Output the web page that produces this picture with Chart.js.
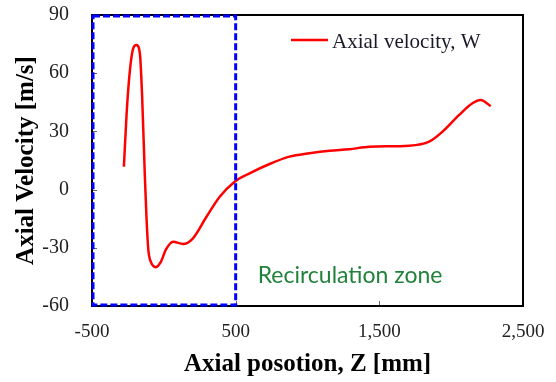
<!DOCTYPE html>
<html>
<head>
<meta charset="utf-8">
<script src="https://cdn.jsdelivr.net/npm/chart.js@4.4.0/dist/chart.umd.min.js"></script>
<style>
  html, body { margin: 0; padding: 0; background: #ffffff; }
  #wrap { width: 556px; height: 382px; }
</style>
</head>
<body>
<div id="wrap"><canvas id="c" width="556" height="382"></canvas></div>
<script>
// ---- Data ----
const zPositions = [-278, -259, -236, -213, -190, -167, -151, -132, -120, -108, -90, -56, -21, 14, 65, 134, 203, 297, 389, 493, 597, 736, 875, 1014, 1153, 1292, 1431, 1708, 1847, 1940, 2056, 2148, 2206, 2275];
const axialVelocity = [11.8, 39.3, 61.6, 72.8, 74.5, 70.3, 47.9, 6.6, -15.7, -31, -37.3, -40, -37.3, -31, -26.9, -28, -25.1, -14, -3.7, 4.1, 8.4, 13.2, 17, 18.7, 20, 20.8, 22.1, 22.6, 24.7, 29.9, 38.5, 44.5, 46.2, 43];
const xTickValues = [-500, 500, 1500, 2500];
const yTickValues = [-60, -30, 0, 30, 60, 90];
const seriesLabel = 'Axial velocity, W';
const zoneRange = [-500, 500];
const zoneLabel = 'Recirculation zone';
const zoneLabelPos = [653, -48];

const points = zPositions.map((z, i) => ({ x: z, y: axialVelocity[i] }));

const decorPlugin = {
  id: 'decor',
  beforeDatasetsDraw(chart) {
    const { ctx, chartArea: a, scales: { x, y } } = chart;
    ctx.save();
    // inward tick marks
    ctx.strokeStyle = '#666';
    ctx.lineWidth = 1;
    xTickValues.forEach(v => {
      const px = Math.round(x.getPixelForValue(v)) + 0.5;
      ctx.beginPath(); ctx.moveTo(px, a.bottom); ctx.lineTo(px, a.bottom - 5); ctx.stroke();
    });
    yTickValues.forEach(v => {
      const py = Math.round(y.getPixelForValue(v)) + 0.5;
      ctx.beginPath(); ctx.moveTo(a.left, py); ctx.lineTo(a.left + 5, py); ctx.stroke();
    });
    // black frame
    ctx.strokeStyle = '#000';
    ctx.lineWidth = 2;
    ctx.strokeRect(a.left, a.top, a.right - a.left, a.bottom - a.top);
    ctx.restore();
  },
  afterDatasetsDraw(chart) {
    const { ctx, chartArea: a, scales: { x, y } } = chart;
    ctx.save();
    // blue dashed recirculation box
    const x0 = x.getPixelForValue(zoneRange[0]) + 1;
    const x1 = x.getPixelForValue(zoneRange[1]);
    ctx.strokeStyle = '#0000ff';
    ctx.lineWidth = 3;
    ctx.setLineDash([7, 3]);
    ctx.strokeRect(x0, a.top + 1, x1 - x0, a.bottom - a.top - 2);
    ctx.setLineDash([]);
    // zone label
    ctx.fillStyle = 'rgb(34,130,60)';
    ctx.font = '23px Lato, "Open Sans", sans-serif';
    ctx.textAlign = 'left';
    ctx.textBaseline = 'alphabetic';
    ctx.fillText(zoneLabel, x.getPixelForValue(zoneLabelPos[0]), y.getPixelForValue(zoneLabelPos[1]));
    // legend
    const lx = a.right - 232, ly = a.top + 25;
    ctx.strokeStyle = '#ff0000';
    ctx.lineWidth = 2.5;
    ctx.beginPath(); ctx.moveTo(lx, ly); ctx.lineTo(lx + 37, ly); ctx.stroke();
    ctx.fillStyle = '#1a1a2a';
    ctx.font = '21px "Liberation Serif", "Times New Roman", serif';
    ctx.textBaseline = 'alphabetic';
    ctx.fillText(chart.data.datasets[0].label, lx + 41, ly + 8);
    ctx.restore();
  }
};

new Chart(document.getElementById('c'), {
  type: 'line',
  data: {
    datasets: [{
      label: seriesLabel,
      data: points,
      borderColor: '#ff0000',
      borderWidth: 2.5,
      pointRadius: 0,
      fill: false,
      cubicInterpolationMode: 'monotone'
    }]
  },
  options: {
    responsive: false,
    animation: false,
    layout: { padding: { top: 15, right: 33, left: 0, bottom: 0 } },
    plugins: { legend: { display: false }, tooltip: { enabled: false } },
    scales: {
      x: {
        type: 'linear',
        min: -500, max: 2500,
        afterFit(s) { s.height = 76; s.paddingLeft = 0; s.paddingRight = 0; },
        afterBuildTicks(s) { s.ticks = xTickValues.map(v => ({ value: v })); },
        grid: { display: false, drawTicks: false, tickLength: 0 },
        border: { display: false },
        ticks: {
          padding: 15,
          color: '#222',
          font: { family: '"Liberation Serif", "Times New Roman", serif', size: 19 },
          callback: v => v.toLocaleString('en-US')
        },
        title: {
          display: true,
          text: 'Axial posotion, Z [mm]',
          color: '#000',
          padding: { top: 0, bottom: 2 },
          font: { family: '"Liberation Serif", "Times New Roman", serif', size: 25, weight: 'bold' }
        }
      },
      y: {
        type: 'linear',
        min: -60, max: 90,
        afterFit(s) { s.width = 92; s.paddingTop = 0; s.paddingBottom = 0; },
        afterBuildTicks(s) { s.ticks = yTickValues.map(v => ({ value: v })); },
        grid: { display: false, drawTicks: false, tickLength: 0 },
        border: { display: false },
        ticks: {
          padding: 23,
          color: '#222',
          font: { family: '"Liberation Serif", "Times New Roman", serif', size: 20 }
        },
        title: {
          display: true,
          text: 'Axial Velocity [m/s]',
          color: '#000',
          padding: { top: 12, bottom: 0 },
          font: { family: '"Liberation Serif", "Times New Roman", serif', size: 25, weight: 'bold' }
        }
      }
    }
  },
  plugins: [decorPlugin]
});
</script>
</body>
</html>
